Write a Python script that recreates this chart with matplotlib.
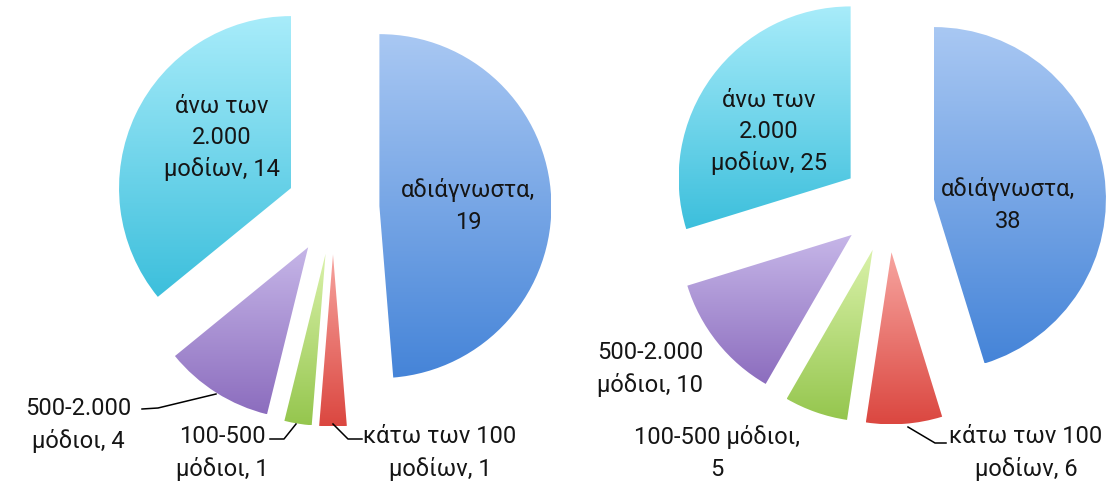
import numpy as np
import matplotlib.pyplot as plt
from matplotlib.colors import LinearSegmentedColormap

plt.rcParams['font.family'] = ['Roboto', 'Noto Sans', 'DejaVu Sans']

W, H = 1109, 486

categories = ['αδιάγνωστα', 'κάτω των 100 μοδίων', '100-500 μόδιοι',
              '500-2.000 μόδιοι', 'άνω των 2.000 μοδίων']
values_left = [19, 1, 1, 4, 14]
values_right = [38, 6, 5, 10, 25]

labels_left = ['αδιάγνωστα,\n19', 'κάτω των 100\nμοδίων, 1', '100-500\nμόδιοι, 1',
               '500-2.000\nμόδιοι, 4', 'άνω των\n2.000\nμοδίων, 14']
labels_right = ['αδιάγνωστα,\n38', 'κάτω των 100\nμοδίων, 6', '100-500 μόδιοι,\n5',
                '500-2.000\nμόδιοι, 10', 'άνω των\n2.000\nμοδίων, 25']

# gradient (top, bottom) for each slice
grad_colors = [('#A9C8F3', '#4584D8'),
               ('#F7A5A0', '#DB4740'),
               ('#DAF2AA', '#95C64E'),
               ('#C6B6E8', '#8C6DBE'),
               ('#A8ECFA', '#3CBFDC')]

# label positions in image pixels (x, y from top)
pos_left = [(468, 206), (440, 453), (222, 453), (78, 425), (222, 138)]
pos_right = [(1008, 205), (1026, 453), (717, 453), (650, 369), (769, 132)]

# leader lines (image pixels)
leaders = [[(333, 424), (348, 439), (362, 439)],
           [(296, 424), (284, 439), (270, 439)],
           [(216, 394), (158, 408), (142, 409)],
           [(908, 427), (935, 443), (946, 443)]]

fig = plt.figure(figsize=(W / 100, H / 100), dpi=100)
ax = fig.add_axes([0, 0, 1, 1])


def draw_pie(values, center, radius):
    wedges, _ = ax.pie(values, startangle=90, counterclock=False, radius=radius,
                       center=center, explode=[0.27 * radius] * len(values),
                       wedgeprops=dict(linewidth=0))
    for w, (top, bot) in zip(wedges, grad_colors):
        bb = w.get_path().get_extents()
        cmap = LinearSegmentedColormap.from_list('g', [bot, top])
        grad = np.linspace(0, 1, 256).reshape(-1, 1)
        im = ax.imshow(grad, cmap=cmap, origin='lower', aspect='auto',
                       extent=(bb.x0, bb.x1, bb.y0, bb.y1),
                       interpolation='bilinear', zorder=1)
        im.set_clip_path(w)
        w.set_facecolor('none')
        w.set_edgecolor('none')


draw_pie(values_left, (333, H - 208), 172)
draw_pie(values_right, (888, H - 206), 172)

for labels, pos in [(labels_left, pos_left), (labels_right, pos_right)]:
    for lab, (x, y) in zip(labels, pos):
        ax.text(x, H - y, lab, ha='center', va='center', fontsize=17,
                color='#151515', linespacing=1.45, zorder=3)

for pts in leaders:
    xs = [p[0] for p in pts]
    ys = [H - p[1] for p in pts]
    ax.plot(xs, ys, color='black', lw=1.1, zorder=3)

ax.set_xlim(0, W)
ax.set_ylim(0, H)
ax.set_aspect('equal')
ax.axis('off')

fig.savefig('out.png', dpi=100, facecolor='white')
